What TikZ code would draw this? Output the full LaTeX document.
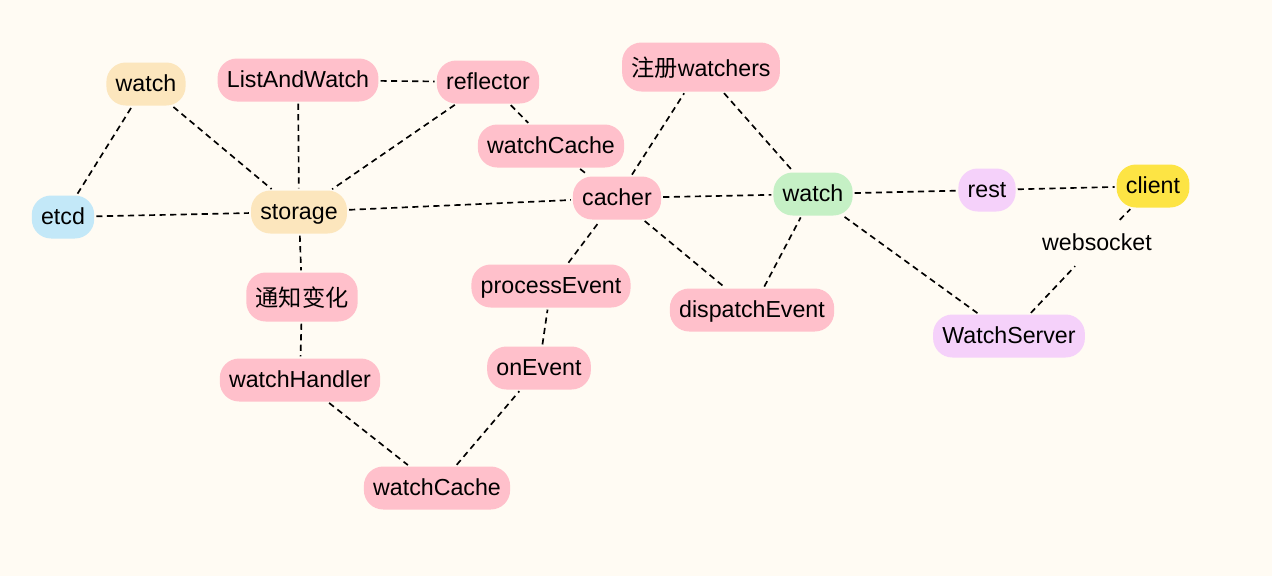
\documentclass[tikz,border=0pt]{standalone}
\usepackage{fontspec}
\setmainfont{Liberation Sans}
\newfontfamily\cjk{Noto Sans CJK SC}
\definecolor{bgcol}{HTML}{FFFBF3}
\definecolor{pinkbox}{HTML}{FFC0CB}
\definecolor{sandbox}{HTML}{FCE6BD}
\definecolor{bluebox}{HTML}{C3E8F8}
\definecolor{greenbox}{HTML}{C5F0C5}
\definecolor{lilacbox}{HTML}{F5D1FA}
\definecolor{yellowbox}{HTML}{FDE444}
\begin{document}
\begin{tikzpicture}[x=0.02cm, y=-0.02cm]

\tikzstyle{box}=[rectangle, rounded corners=11pt, inner xsep=5.3pt, inner ysep=0pt, minimum height=0.86cm, text height=11pt, text depth=2pt, font=\fontsize{13.2}{16}\selectfont]
\tikzstyle{pinkb}=[box, fill=pinkbox]
\tikzstyle{sandb}=[box, fill=sandbox]
\tikzstyle{tall}=[minimum height=0.98cm, text height=12pt, text depth=1.5pt]
\tikzstyle{link}=[dashed, dash pattern=on 3.5pt off 2.5pt, line width=0.95pt, shorten >=1pt, shorten <=1pt]

\useasboundingbox [fill=bgcol] (0,0) rectangle (1272,576);

% left part
\node (watchA) [sandb] at (146,84) {watch};
\node (etcd) [box, fill=bluebox] at (63,217) {etcd};
\node (storage) [sandb] at (299,212) {storage};
\node (listwatch) [pinkb] at (298,80) {ListAndWatch};
\node (reflector) [pinkb] at (488,82) {reflector};
\node (cacheA) [pinkb] at (551,146) {watchCache};
\node (notify) [pinkb, tall] at (302,297) {{\cjk 通知变化}};
\node (handler) [pinkb] at (300,380) {watchHandler};
\node (cacheB) [pinkb] at (437,488) {watchCache};
\node (onevent) [pinkb] at (539,368) {onEvent};
\node (process) [pinkb] at (551,286) {processEvent};

% middle part
\node (cacher) [pinkb] at (617,198) {cacher};
\node (register) [pinkb, tall] at (701,67) {{\cjk 注册}watchers};
\node (dispatch) [pinkb] at (752,310) {dispatchEvent};
\node (watchB) [box, fill=greenbox] at (813,194) {watch};

% right part
\node (rest) [box, fill=lilacbox] at (987,190) {rest};
\node (client) [box, fill=yellowbox] at (1153,186) {client};
\node (server) [box, fill=lilacbox] at (1009,336) {WatchServer};
\node (ws) [box] at (1097,243) {websocket};

\draw [link] (etcd) -- (watchA);
\draw [link] (watchA) -- (storage);
\draw [link] (etcd) -- (storage);
\draw [link] (listwatch) -- (storage);
\draw [link] (listwatch) -- (reflector);
\draw [link] (reflector) -- (storage);
\draw [link] (reflector) -- (cacheA);
\draw [link] (cacheA) -- (cacher);
\draw [link] (storage) -- (cacher);
\draw [link] (storage) -- (notify);
\draw [link] (notify) -- (handler);
\draw [link] (handler) -- (cacheB);
\draw [link] (cacheB) -- (onevent);
\draw [link] (onevent) -- (process);
\draw [link] (process) -- (cacher);
\draw [link] (cacher) -- (register);
\draw [link] (register) -- (watchB);
\draw [link] (cacher) -- (watchB);
\draw [link] (cacher) -- (dispatch);
\draw [link] (dispatch) -- (watchB);
\draw [link] (watchB) -- (rest);
\draw [link] (rest) -- (client);
\draw [link] (watchB) -- (server);
\draw [link] (server) -- (ws);
\draw [link] (ws) -- (client);

\end{tikzpicture}
\end{document}
